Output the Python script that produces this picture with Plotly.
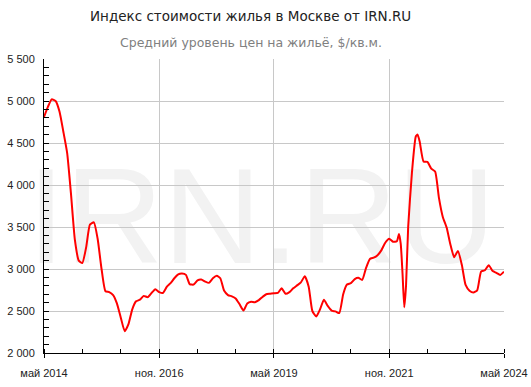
import plotly.graph_objects as go

dates = [
    "2014-05", "2014-06", "2014-07", "2014-08", "2014-09", "2014-10", "2014-11", "2014-12",
    "2015-01", "2015-02", "2015-03", "2015-04", "2015-05", "2015-06", "2015-07", "2015-08",
    "2015-09", "2015-10", "2015-11", "2015-12",
    "2016-01", "2016-02", "2016-03", "2016-04", "2016-05", "2016-06", "2016-07", "2016-08",
    "2016-09", "2016-10", "2016-11", "2016-12",
    "2017-01", "2017-02", "2017-03", "2017-04", "2017-05", "2017-06", "2017-07", "2017-08",
    "2017-09", "2017-10", "2017-11", "2017-12",
    "2018-01", "2018-02", "2018-03", "2018-04", "2018-05", "2018-06", "2018-07", "2018-08",
    "2018-09", "2018-10", "2018-11", "2018-12",
    "2019-01", "2019-02", "2019-03", "2019-04", "2019-05", "2019-06", "2019-07", "2019-08",
    "2019-09", "2019-10", "2019-11", "2019-12",
    "2020-01", "2020-02", "2020-03", "2020-04", "2020-05", "2020-06", "2020-07", "2020-08",
    "2020-09", "2020-10", "2020-11", "2020-12",
    "2021-01", "2021-02", "2021-03", "2021-04", "2021-05", "2021-06", "2021-07", "2021-08",
    "2021-09", "2021-10", "2021-11", "2021-12",
    "2022-01", "2022-01-18", "2022-02", "2022-02-15", "2022-03", "2022-03-15", "2022-04",
    "2022-05", "2022-06", "2022-06-15", "2022-07", "2022-08", "2022-09", "2022-10",
    "2022-11", "2022-12",
    "2023-01", "2023-02", "2023-03", "2023-04", "2023-05", "2023-06", "2023-07", "2023-08",
    "2023-09", "2023-10", "2023-11", "2023-12",
    "2024-01", "2024-02", "2024-03", "2024-04", "2024-05",
]

prices = [
    4810, 4930, 5020, 5000, 4875, 4640, 4380, 3900,
    3350, 3100, 3070, 3260, 3530, 3555, 3360, 3000,
    2735, 2725, 2690, 2590,
    2420, 2260, 2340, 2520, 2615, 2635, 2680, 2665,
    2715, 2760, 2725, 2715,
    2790, 2835, 2890, 2935, 2945, 2930, 2820, 2815,
    2865, 2875, 2850, 2835,
    2890, 2920, 2890, 2740, 2690, 2675, 2650, 2580,
    2505, 2590, 2610, 2605,
    2630, 2670, 2700, 2705, 2711, 2715, 2770, 2705,
    2725, 2770, 2805, 2840,
    2915, 2790, 2500, 2435, 2520, 2635, 2560, 2505,
    2495, 2475, 2700, 2815,
    2832, 2880, 2895, 2870, 3010, 3120, 3135, 3165,
    3225, 3313, 3360, 3325,
    3330, 3417, 3300, 2950, 2545, 2800, 3500,
    4150, 4580, 4600, 4520, 4280, 4275, 4195,
    4160, 3850,
    3620, 3490, 3300, 3140, 3215, 3050, 2810, 2742,
    2720, 2745, 2968, 2985,
    3045, 2975, 2955, 2930, 2968,
]

tick_dates = ["2014-05-01", "2016-11-01", "2019-05-01", "2021-11-01", "2024-05-01"]
tick_labels = ["май 2014", "ноя. 2016", "май 2019", "ноя. 2021", "май 2024"]

title_text = "Индекс стоимости жилья в Москве от IRN.RU"
subtitle_text = "Средний уровень цен на жильё, $/кв.м."
watermark = "IRN.RU"

fig = go.Figure()
fig.add_trace(go.Scatter(
    x=dates, y=prices, mode="lines",
    line=dict(color="#ff0000", width=2, shape="spline", smoothing=0.5),
    hoverinfo="skip", showlegend=False,
))

fig.add_shape(
    type="rect", xref="paper", yref="paper", x0=-0.055, x1=1.0, y0=0.0, y1=1.02,
    line=dict(width=0), fillcolor="rgba(0,0,0,0)", layer="below",
    label=dict(text=watermark, textposition="middle center",
               font=dict(family="Liberation Sans, Arial", size=136, color="#f2f2f2")),
)

fig.add_annotation(text=title_text, xref="paper", yref="paper",
                   x=(251 - 44) / 460.3, y=(353 - 16) / 294, xanchor="center", yanchor="middle",
                   showarrow=False,
                   font=dict(family="DejaVu Sans, Verdana", size=13.5, color="#222222"))
fig.add_annotation(text=subtitle_text, xref="paper", yref="paper",
                   x=(251 - 44) / 460.3, y=(353 - 42) / 294, xanchor="center", yanchor="middle",
                   showarrow=False,
                   font=dict(family="DejaVu Sans, Verdana", size=12.5, color="#808080"))

fig.update_layout(
    width=531, height=387,
    margin=dict(l=44, r=27, t=59, b=34, autoexpand=False),
    paper_bgcolor="white", plot_bgcolor="white",
    separators=", ",
    font=dict(family="Liberation Sans, Arial", size=11, color="#222222"),
    showlegend=False,
)

fig.update_xaxes(
    type="date", range=["2014-05-01", "2024-05-01"],
    tickvals=tick_dates, ticktext=tick_labels,
    ticks="outside", ticklen=4, tickcolor="#000000",
    showgrid=True, gridcolor="#c8c8c8", gridwidth=1,
    showline=True, linecolor="#000000", linewidth=1,
    zeroline=False, automargin=False,
    minor=dict(ticks="inside", ticklen=4, tickcolor="#000000", dtick="M10",
               tick0="2014-05-01", showgrid=False),
    tickfont=dict(family="Liberation Sans, Arial", size=11, color="#222222"),
    ticklabelstandoff=6,
)
fig.update_yaxes(
    range=[2000, 5500], dtick=500, tick0=2000, tickformat=",d",
    ticks="inside", ticklen=5, tickcolor="#000000",
    showgrid=True, gridcolor="#c8c8c8", gridwidth=1,
    showline=True, linecolor="#000000", linewidth=1,
    zeroline=False, automargin=False,
    minor=dict(ticks="inside", ticklen=5, tickcolor="#000000", dtick=100, showgrid=False),
    tickfont=dict(family="Liberation Sans, Arial", size=11, color="#222222"),
    ticklabelstandoff=6,
)

fig.write_html("out.html")
